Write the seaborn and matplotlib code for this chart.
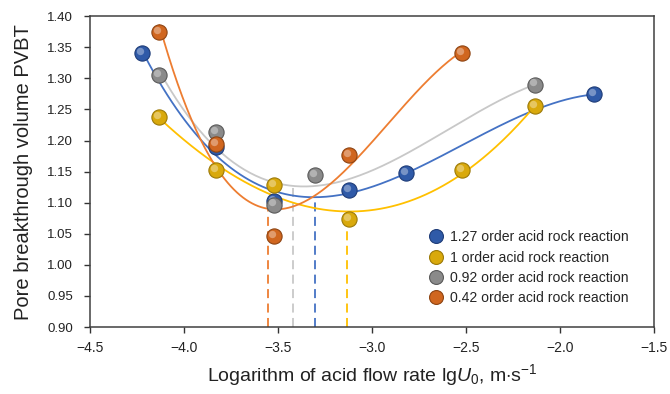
import numpy as np
import pandas as pd
import matplotlib
matplotlib.use("Agg")
import matplotlib.pyplot as plt
import matplotlib.transforms as mtransforms
from matplotlib.lines import Line2D
import seaborn as sns

# ---- data ----
labels = ["1.27 order acid rock reaction", "1 order acid rock reaction",
          "0.92 order acid rock reaction", "0.42 order acid rock reaction"]
x_127 = [-4.22, -3.83, -3.52, -3.12, -2.82, -1.82]
y_127 = [1.340, 1.190, 1.103, 1.121, 1.147, 1.274]
x_100 = [-4.13, -3.83, -3.52, -3.12, -2.52, -2.13]
y_100 = [1.238, 1.152, 1.128, 1.073, 1.152, 1.255]
x_092 = [-4.13, -3.83, -3.52, -3.30, -2.13]
y_092 = [1.305, 1.213, 1.097, 1.145, 1.290]
x_042 = [-4.13, -3.83, -3.52, -3.12, -2.52]
y_042 = [1.375, 1.195, 1.047, 1.177, 1.341]
x_opt = [-3.30, -3.13, -3.42, -3.55]   # optimal lgU0 (dashed lines)
xticks = [-4.5, -4.0, -3.5, -3.0, -2.5, -2.0, -1.5]
yticks = [0.90, 0.95, 1.00, 1.05, 1.10, 1.15, 1.20, 1.25, 1.30, 1.35, 1.40]

series = [(x_127, y_127), (x_100, y_100), (x_092, y_092), (x_042, y_042)]
line_colors = ["#4472C4", "#FFC000", "#C8C8C8", "#ED7D31"]
dot_colors = ["#2F5AA8", "#D9A90C", "#8A8A8A", "#D0661F"]
edge_colors = ["#1E3C78", "#9C7A08", "#5A5A5A", "#8E4412"]

sns.set_theme(style="white")
plt.rcParams['font.family'] = ['Liberation Sans', 'DejaVu Sans']
plt.rcParams['mathtext.fontset'] = 'custom'
plt.rcParams['mathtext.rm'] = 'Liberation Sans'
plt.rcParams['mathtext.it'] = 'Liberation Sans:italic'

fig = plt.figure(figsize=(6.70, 3.94), dpi=100)
ax = fig.add_axes([0.134, 0.170, 0.842, 0.789])

for i in range(4):
    xs, ys = series[i]
    coef = np.polyfit(xs, ys, 3)
    xf = np.linspace(min(xs), max(xs), 200)
    df = pd.DataFrame({"x": xf, "y": np.polyval(coef, xf)})
    sns.lineplot(data=df, x="x", y="y", ax=ax, color=line_colors[i], lw=1.3, zorder=2)
    xo = x_opt[i]
    ax.plot([xo, xo], [0.90, np.polyval(coef, xo)], ls=(0, (5, 3)), color=line_colors[i],
            lw=1.3, zorder=1)

for i in [0, 1, 2, 3]:
    xs, ys = series[i]
    pdf = pd.DataFrame({"x": xs, "y": ys})
    sns.scatterplot(data=pdf, x="x", y="y", ax=ax, s=120, color=dot_colors[i],
                    edgecolor=edge_colors[i], linewidth=0.8, zorder=4 + i)
    hl = mtransforms.offset_copy(ax.transData, fig=fig, x=-1.5, y=1.5, units='points')
    ax.scatter(xs, ys, s=28, color="white", alpha=0.35, linewidth=0, zorder=4.5 + i,
               transform=hl)

ax.set_xlim(-4.5, -1.5)
ax.set_ylim(0.90, 1.40)
ax.set_xticks(xticks)
ax.set_yticks(yticks)
ax.set_xticklabels([f"{t:.1f}".replace("-", "\u2212") for t in xticks])
ax.set_yticklabels([f"{t:.2f}" for t in yticks])
ax.tick_params(axis='both', direction='out', length=4, width=1, colors="#333333",
               labelsize=9.5, labelcolor="#222222")
ax.tick_params(axis='x', bottom=True, pad=6, labelsize=10)
ax.tick_params(axis='y', left=True, pad=8)
for sp in ax.spines.values():
    sp.set_color("#404040")
    sp.set_linewidth(1.1)

ax.set_xlabel(r"Logarithm of acid flow rate lg$\mathit{U}_0$, m$\cdot$s$^{-1}$",
              fontsize=14, color="#222222", labelpad=5)
ax.set_ylabel("Pore breakthrough volume PVBT", fontsize=14.5, color="#222222", labelpad=10)

handles = [Line2D([0], [0], marker='o', ls='none', markersize=10,
                  markerfacecolor=dot_colors[i], markeredgecolor=edge_colors[i],
                  markeredgewidth=0.8) for i in range(4)]
ax.legend(handles, labels, loc='lower right', bbox_to_anchor=(0.961, 0.061), frameon=False,
          fontsize=10.1, handletextpad=0.55, labelspacing=0.45, borderpad=0.2,
          handlelength=1.0, borderaxespad=0)

fig.savefig("out.png", dpi=100)
